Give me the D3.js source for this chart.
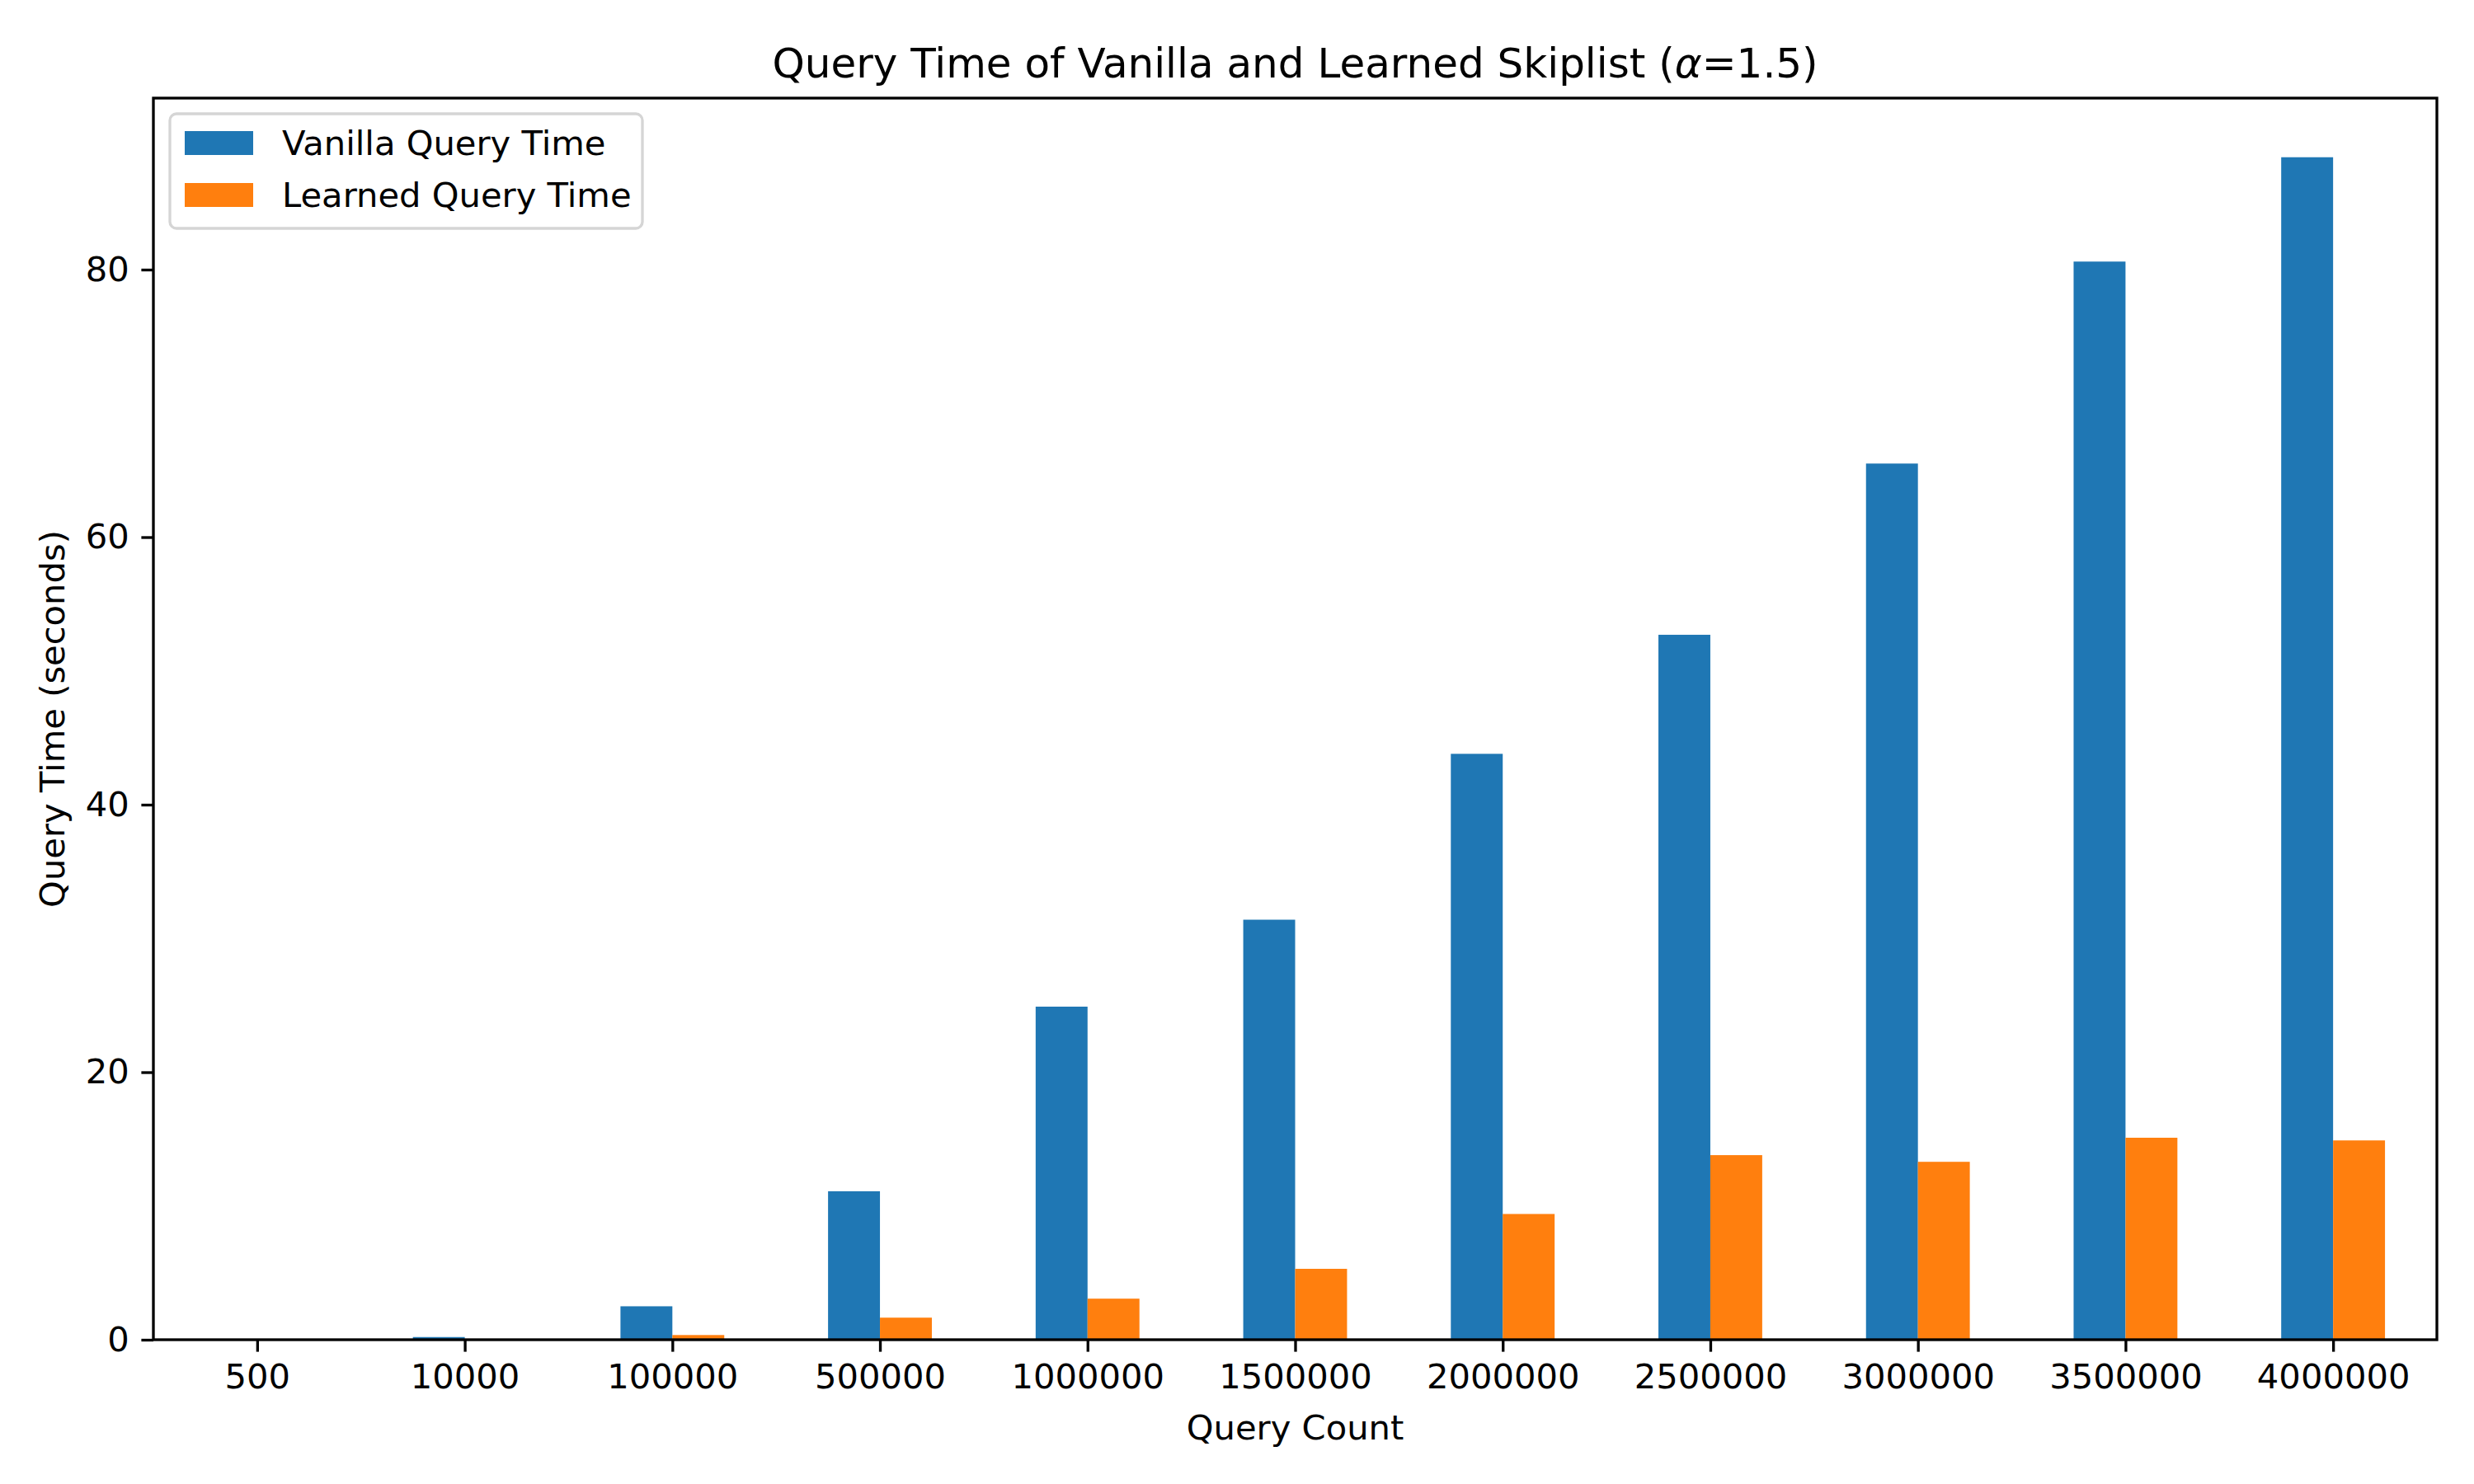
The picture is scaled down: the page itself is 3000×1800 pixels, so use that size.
<!DOCTYPE html>
<html>
<head>
  <meta charset='utf-8'>
  <script src='https://cdn.jsdelivr.net/npm/d3@7'></script>
  <style>
    body { margin: 0; background: white; }
    text { font-family: 'DejaVu Sans', sans-serif; fill: black; }
  </style>
</head>
<body>
<script type='text/javascript'>
  'use strict';

  // data
  var queryCounts = ['500', '10000', '100000', '500000', '1000000', '1500000',
    '2000000', '2500000', '3000000', '3500000', '4000000'];
  var vanillaTime = [0.01, 0.2, 2.5, 11.1, 24.9, 31.4, 43.8, 52.7, 65.5, 80.6, 88.4];
  var learnedTime = [0.0, 0.05, 0.35, 1.65, 3.07, 5.3, 9.4, 13.8, 13.3, 15.1, 14.9];
  var yTicks = [0, 20, 40, 60, 80];
  var seriesNames = ['Vanilla Query Time', 'Learned Query Time'];
  var colors = ['#1f77b4', '#ff7f0e'];

  function draw() {
    var W = 3000, H = 1800;
    var plotL = 186, plotR = 2955, plotT = 119, plotB = 1625;
    var fs = 41.67, tick = 14.6, lw = 3.33;

    var svg = d3.select('body').append('svg')
      .attr('width', W).attr('height', H);

    var x = d3.scaleLinear().domain([-0.5, queryCounts.length - 0.5]).range([plotL, plotR]);
    var yMax = d3.max(vanillaTime) * 1.05;
    var y = d3.scaleLinear().domain([0, yMax]).range([plotB, plotT]);
    var barW = 0.25;

    // bars, vanilla left of the tick and learned right of it
    var series = [vanillaTime, learnedTime];
    series.forEach(function(vals, s) {
      svg.append('g').selectAll('rect')
        .data(vals)
        .enter()
        .append('rect')
        .attr('x', function(d, i) { return x(i - barW + s * barW); })
        .attr('width', x(barW) - x(0))
        .attr('y', function(d) { return y(d); })
        .attr('height', function(d) { return y(0) - y(d); })
        .attr('fill', colors[s]);
    });

    // axes
    var xAxis = d3.axisBottom(x)
      .tickValues(d3.range(queryCounts.length))
      .tickFormat(function(d) { return queryCounts[d]; })
      .tickSize(tick).tickPadding(tick);
    var gx = svg.append('g').attr('transform', 'translate(0,' + plotB + ')').call(xAxis);

    var yAxis = d3.axisLeft(y).tickValues(yTicks).tickFormat(d3.format('d'))
      .tickSize(tick).tickPadding(tick);
    var gy = svg.append('g').attr('transform', 'translate(' + plotL + ',0)').call(yAxis);

    [gx, gy].forEach(function(g) {
      g.select('.domain').remove();
      g.selectAll('line').attr('stroke', 'black').attr('stroke-width', lw);
      g.selectAll('text').style('font-size', fs + 'px')
        .style('font-family', "'DejaVu Sans', sans-serif").attr('fill', 'black');
    });

    // frame
    svg.append('rect')
      .attr('x', plotL).attr('y', plotT)
      .attr('width', plotR - plotL).attr('height', plotB - plotT)
      .attr('fill', 'none').attr('stroke', 'black').attr('stroke-width', lw);

    // title and axis labels
    svg.append('text')
      .attr('x', (plotL + plotR) / 2).attr('y', plotT - 25)
      .attr('text-anchor', 'middle')
      .style('font-size', '50px')
      .html('Query Time of Vanilla and Learned Skiplist (<tspan font-style="italic">α</tspan>=1.5)');

    svg.append('text')
      .attr('x', (plotL + plotR) / 2).attr('y', 1746)
      .attr('text-anchor', 'middle')
      .style('font-size', fs + 'px')
      .text('Query Count');

    svg.append('text')
      .attr('transform', 'translate(78,' + (plotT + plotB) / 2 + ') rotate(-90)')
      .attr('text-anchor', 'middle')
      .style('font-size', fs + 'px')
      .text('Query Time (seconds)');

    // legend
    var legend = svg.append('g');
    legend.append('rect')
      .attr('x', 206).attr('y', 138)
      .attr('width', 573).attr('height', 139)
      .attr('rx', 8).attr('ry', 8)
      .attr('fill', 'white').attr('fill-opacity', 0.8)
      .attr('stroke', '#d5d5d5').attr('stroke-width', lw);
    seriesNames.forEach(function(name, i) {
      legend.append('rect')
        .attr('x', 224).attr('y', 159 + i * 63)
        .attr('width', 83).attr('height', 29)
        .attr('fill', colors[i]);
      legend.append('text')
        .attr('x', 342).attr('y', 188 + i * 63)
        .style('font-size', fs + 'px')
        .text(name);
    });
  }

  draw();
</script>
</body>
</html>
